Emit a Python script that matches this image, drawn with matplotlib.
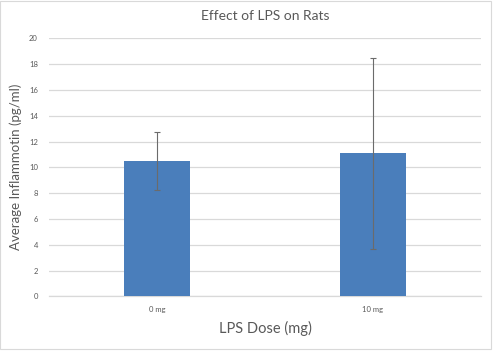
import matplotlib
matplotlib.use("Agg")
import matplotlib.pyplot as plt
from matplotlib.patches import Rectangle

categories = ["0 mg", "10 mg"]
means = [10.5, 11.1]
errors = [2.25, 7.4]
yticks = [0, 2, 4, 6, 8, 10, 12, 14, 16, 18, 20]

plt.rcParams['font.family'] = ['Lato', 'DejaVu Sans']
txt = '#595959'

fig = plt.figure(figsize=(4.94, 3.51), dpi=100)
ax = fig.add_axes([0.0992, 0.1558, 0.8745, 0.7351])

x = list(range(len(categories)))
ax.bar(x, means, width=0.31, color='#4A7EBB', zorder=3)
ax.errorbar(x, means, yerr=errors, fmt='none', ecolor='#6b6b6b',
            elinewidth=0.8, capsize=2, capthick=0.8, zorder=4)

ax.set_xlim(-0.5, 1.5)
ax.set_ylim(0, 20)
ax.set_yticks(yticks)
ax.set_yticklabels([str(v) for v in yticks], fontsize=5.5, color=txt)
ax.set_xticks(x)
ax.set_xticklabels(categories, fontsize=5.5, color=txt)
ax.tick_params(axis='both', length=0)
ax.tick_params(axis='y', pad=8)
ax.tick_params(axis='x', pad=7)
ax.grid(axis='y', color='#D9D9D9', linewidth=0.9, zorder=0)
for s in ['top', 'right', 'left']:
    ax.spines[s].set_visible(False)
ax.spines['bottom'].set_color('#D9D9D9')
ax.spines['bottom'].set_linewidth(0.9)

ax.set_title("Effect of LPS on Rats", fontsize=10, color=txt, pad=13)
ax.set_xlabel("LPS Dose (mg)", fontsize=10.5, color=txt, labelpad=6)
ax.set_ylabel("Average Inflammotin (pg/ml)", fontsize=9.5, color=txt, labelpad=5)

fig.patches.append(Rectangle((0.0, 0.006), 0.994, 0.99, transform=fig.transFigure,
                             fill=False, edgecolor='#D9D9D9', linewidth=0.8))

fig.savefig("out.png", dpi=100)
